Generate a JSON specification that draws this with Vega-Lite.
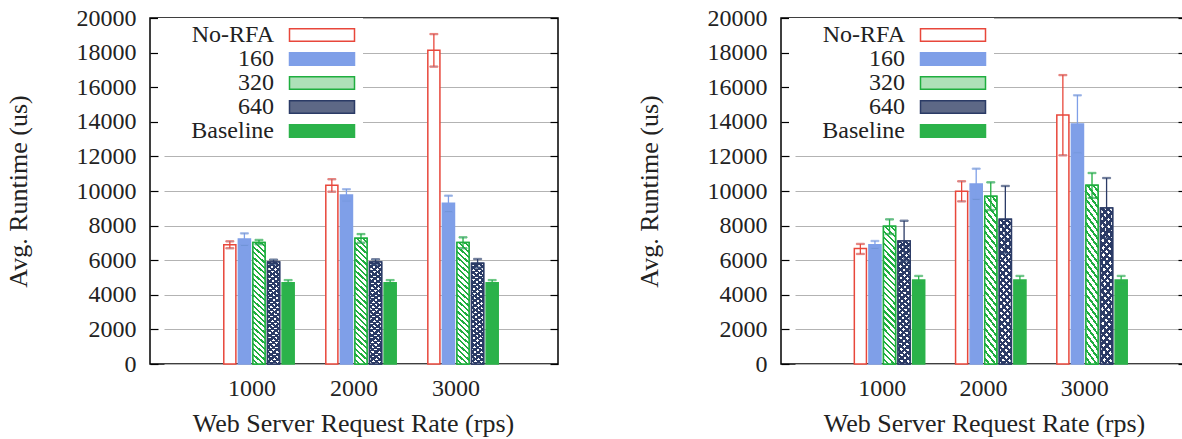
{
  "$schema": "https://vega.github.io/schema/vega-lite/v6.json",
  "padding": {"left": 4, "top": 5, "right": 0, "bottom": 0},
  "spacing": 75,
  "config": {
    "font": "Liberation Serif",
    "view": {"stroke": "black", "strokeWidth": 1.5},
    "axis": {"labelFont": "Liberation Serif", "titleFont": "Liberation Serif", "labelColor": "#222", "titleColor": "#222", "titleFontWeight": "normal"},
    "legend": {"labelFont": "Liberation Serif", "labelColor": "#222"}
  },
  "resolve": {"scale": {"fill": "independent", "stroke": "independent"}, "legend": {"fill": "independent", "stroke": "independent"}},
  "datasets": {
    "d": [
      {"panel": "a", "rate": "1000", "series": "No-RFA", "value": 6900, "lo": 6690, "hi": 7090},
      {"panel": "a", "rate": "1000", "series": "160", "value": 7220, "lo": 6860, "hi": 7550},
      {"panel": "a", "rate": "1000", "series": "320", "value": 7030, "lo": 6920, "hi": 7170},
      {"panel": "a", "rate": "1000", "series": "640", "value": 5890, "lo": 5760, "hi": 6030},
      {"panel": "a", "rate": "1000", "series": "Baseline", "value": 4700, "lo": 4570, "hi": 4850},
      {"panel": "a", "rate": "2000", "series": "No-RFA", "value": 10330, "lo": 9960, "hi": 10680},
      {"panel": "a", "rate": "2000", "series": "160", "value": 9770, "lo": 9420, "hi": 10100},
      {"panel": "a", "rate": "2000", "series": "320", "value": 7270, "lo": 7010, "hi": 7510},
      {"panel": "a", "rate": "2000", "series": "640", "value": 5890, "lo": 5740, "hi": 6050},
      {"panel": "a", "rate": "2000", "series": "Baseline", "value": 4700, "lo": 4570, "hi": 4850},
      {"panel": "a", "rate": "3000", "series": "No-RFA", "value": 18130, "lo": 17190, "hi": 19070},
      {"panel": "a", "rate": "3000", "series": "160", "value": 9290, "lo": 8800, "hi": 9730},
      {"panel": "a", "rate": "3000", "series": "320", "value": 7030, "lo": 6690, "hi": 7320},
      {"panel": "a", "rate": "3000", "series": "640", "value": 5820, "lo": 5570, "hi": 6070},
      {"panel": "a", "rate": "3000", "series": "Baseline", "value": 4700, "lo": 4570, "hi": 4850},
      {"panel": "b", "rate": "1000", "series": "No-RFA", "value": 6670, "lo": 6360, "hi": 6940},
      {"panel": "b", "rate": "1000", "series": "160", "value": 6900, "lo": 6690, "hi": 7110},
      {"panel": "b", "rate": "1000", "series": "320", "value": 7960, "lo": 7510, "hi": 8360},
      {"panel": "b", "rate": "1000", "series": "640", "value": 7110, "lo": 5950, "hi": 8280},
      {"panel": "b", "rate": "1000", "series": "Baseline", "value": 4860, "lo": 4620, "hi": 5090},
      {"panel": "b", "rate": "2000", "series": "No-RFA", "value": 9980, "lo": 9400, "hi": 10560},
      {"panel": "b", "rate": "2000", "series": "160", "value": 10400, "lo": 9520, "hi": 11290},
      {"panel": "b", "rate": "2000", "series": "320", "value": 9690, "lo": 8900, "hi": 10500},
      {"panel": "b", "rate": "2000", "series": "640", "value": 8360, "lo": 6400, "hi": 10290},
      {"panel": "b", "rate": "2000", "series": "Baseline", "value": 4860, "lo": 4620, "hi": 5090},
      {"panel": "b", "rate": "3000", "series": "No-RFA", "value": 14390, "lo": 12060, "hi": 16700},
      {"panel": "b", "rate": "3000", "series": "160", "value": 13870, "lo": 12200, "hi": 15530},
      {"panel": "b", "rate": "3000", "series": "320", "value": 10330, "lo": 9600, "hi": 11040},
      {"panel": "b", "rate": "3000", "series": "640", "value": 9020, "lo": 7280, "hi": 10750},
      {"panel": "b", "rate": "3000", "series": "Baseline", "value": 4860, "lo": 4620, "hi": 5090}
    ]
  },
  "hconcat": [
    {
      "width": 408, "height": 346,
      "data": {"name": "d"},
      "transform": [{"filter": "datum.panel === 'a'"}],
      "resolve": {"axis": {"y": "independent"}},
      "layer": [
        {
          "mark": {"type": "bar", "strokeWidth": 1.5},
          "encoding": {
            "x": {"field": "rate", "type": "nominal", "scale": {"paddingInner": 0.31, "paddingOuter": 0.586, "rangeMin": 14}, "axis": {"title": "Web Server Request Rate (rps)", "titleX": 203, "labelAngle": 0, "ticks": false, "domain": false, "grid": false, "labelOffset": -7, "labelFont": "Liberation Serif", "labelFontSize": 24, "labelPadding": 12, "titleFont": "Liberation Serif", "titleFontSize": 26, "titlePadding": 10}},
            "xOffset": {"field": "series", "type": "nominal", "scale": {"domain": ["No-RFA", "160", "320", "640", "Baseline"], "paddingInner": 0.17, "paddingOuter": 0}},
            "y": {"field": "value", "type": "quantitative", "scale": {"domain": [0, 20000], "nice": false}, "axis": {"values": [0, 2000, 4000, 6000, 8000, 10000, 12000, 14000, 16000, 18000, 20000], "format": "d", "grid": true, "gridColor": "#b3b3b3", "gridWidth": 1.2, "tickSize": -8, "tickColor": "black", "tickWidth": 1.2, "domain": false, "labelFont": "Liberation Serif", "labelFontSize": 24, "labelPadding": 22, "title": "Avg. Runtime (us)", "titleFont": "Liberation Serif", "titleFontSize": 26, "titlePadding": 45}},
            "fill": {"field": "series", "type": "nominal", "scale": {"domain": ["No-RFA", "160", "320", "640", "Baseline"], "range": ["white", "#7f9fe8", "#aee0b8", "#5d6886", "#2bb24a"]},
              "legend": {"orient": "none", "legendX": 8, "legendY": 0, "zindex": 1, "title": null, "symbolType": "M-5,-0.95H5V0.95H-5Z", "symbolSize": 169, "symbolStrokeWidth": 1.5, "symbolOffset": 147, "labelAlign": "right", "labelOffset": -60, "labelFontSize": 24, "labelLimit": 0, "rowPadding": -4, "padding": 5, "fillColor": "white"}},
            "stroke": {"field": "series", "type": "nominal", "scale": {"domain": ["No-RFA", "160", "320", "640", "Baseline"], "range": ["#e8473b", "#7f9fe8", "#1fae3f", "#2b3b66", "#2bb24a"]}}
          }
        },
        {
          "transform": [{"filter": "datum.series === '320'"}],
          "mark": {"type": "bar", "strokeWidth": 1.5, "stroke": "#1fae3f", "fill": {"gradient": "linear", "x1": 0.1, "y1": -0.1, "x2": 0, "y2": 1, "stops": [
                {"offset": 0, "color": "#1fae3f"}, {"offset": 0.016, "color": "#1fae3f"}, {"offset": 0.016, "color": "white"}, {"offset": 0.04, "color": "white"},
                {"offset": 0.04, "color": "#1fae3f"}, {"offset": 0.056, "color": "#1fae3f"}, {"offset": 0.056, "color": "white"}, {"offset": 0.08, "color": "white"},
                {"offset": 0.08, "color": "#1fae3f"}, {"offset": 0.096, "color": "#1fae3f"}, {"offset": 0.096, "color": "white"}, {"offset": 0.12, "color": "white"},
                {"offset": 0.12, "color": "#1fae3f"}, {"offset": 0.136, "color": "#1fae3f"}, {"offset": 0.136, "color": "white"}, {"offset": 0.16, "color": "white"},
                {"offset": 0.16, "color": "#1fae3f"}, {"offset": 0.176, "color": "#1fae3f"}, {"offset": 0.176, "color": "white"}, {"offset": 0.2, "color": "white"},
                {"offset": 0.2, "color": "#1fae3f"}, {"offset": 0.216, "color": "#1fae3f"}, {"offset": 0.216, "color": "white"}, {"offset": 0.24, "color": "white"},
                {"offset": 0.24, "color": "#1fae3f"}, {"offset": 0.256, "color": "#1fae3f"}, {"offset": 0.256, "color": "white"}, {"offset": 0.28, "color": "white"},
                {"offset": 0.28, "color": "#1fae3f"}, {"offset": 0.296, "color": "#1fae3f"}, {"offset": 0.296, "color": "white"}, {"offset": 0.32, "color": "white"},
                {"offset": 0.32, "color": "#1fae3f"}, {"offset": 0.336, "color": "#1fae3f"}, {"offset": 0.336, "color": "white"}, {"offset": 0.36, "color": "white"},
                {"offset": 0.36, "color": "#1fae3f"}, {"offset": 0.376, "color": "#1fae3f"}, {"offset": 0.376, "color": "white"}, {"offset": 0.4, "color": "white"},
                {"offset": 0.4, "color": "#1fae3f"}, {"offset": 0.416, "color": "#1fae3f"}, {"offset": 0.416, "color": "white"}, {"offset": 0.44, "color": "white"},
                {"offset": 0.44, "color": "#1fae3f"}, {"offset": 0.456, "color": "#1fae3f"}, {"offset": 0.456, "color": "white"}, {"offset": 0.48, "color": "white"},
                {"offset": 0.48, "color": "#1fae3f"}, {"offset": 0.496, "color": "#1fae3f"}, {"offset": 0.496, "color": "white"}, {"offset": 0.52, "color": "white"},
                {"offset": 0.52, "color": "#1fae3f"}, {"offset": 0.536, "color": "#1fae3f"}, {"offset": 0.536, "color": "white"}, {"offset": 0.56, "color": "white"},
                {"offset": 0.56, "color": "#1fae3f"}, {"offset": 0.576, "color": "#1fae3f"}, {"offset": 0.576, "color": "white"}, {"offset": 0.6, "color": "white"},
                {"offset": 0.6, "color": "#1fae3f"}, {"offset": 0.616, "color": "#1fae3f"}, {"offset": 0.616, "color": "white"}, {"offset": 0.64, "color": "white"},
                {"offset": 0.64, "color": "#1fae3f"}, {"offset": 0.656, "color": "#1fae3f"}, {"offset": 0.656, "color": "white"}, {"offset": 0.68, "color": "white"},
                {"offset": 0.68, "color": "#1fae3f"}, {"offset": 0.696, "color": "#1fae3f"}, {"offset": 0.696, "color": "white"}, {"offset": 0.72, "color": "white"},
                {"offset": 0.72, "color": "#1fae3f"}, {"offset": 0.736, "color": "#1fae3f"}, {"offset": 0.736, "color": "white"}, {"offset": 0.76, "color": "white"},
                {"offset": 0.76, "color": "#1fae3f"}, {"offset": 0.776, "color": "#1fae3f"}, {"offset": 0.776, "color": "white"}, {"offset": 0.8, "color": "white"},
                {"offset": 0.8, "color": "#1fae3f"}, {"offset": 0.816, "color": "#1fae3f"}, {"offset": 0.816, "color": "white"}, {"offset": 0.84, "color": "white"},
                {"offset": 0.84, "color": "#1fae3f"}, {"offset": 0.856, "color": "#1fae3f"}, {"offset": 0.856, "color": "white"}, {"offset": 0.88, "color": "white"},
                {"offset": 0.88, "color": "#1fae3f"}, {"offset": 0.896, "color": "#1fae3f"}, {"offset": 0.896, "color": "white"}, {"offset": 0.92, "color": "white"},
                {"offset": 0.92, "color": "#1fae3f"}, {"offset": 0.936, "color": "#1fae3f"}, {"offset": 0.936, "color": "white"}, {"offset": 0.96, "color": "white"},
                {"offset": 0.96, "color": "#1fae3f"}, {"offset": 0.976, "color": "#1fae3f"}, {"offset": 0.976, "color": "white"}, {"offset": 1, "color": "white"}
              ]}},
          "encoding": {
            "x": {"field": "rate", "type": "nominal"},
            "xOffset": {"field": "series", "type": "nominal"},
            "y": {"field": "value", "type": "quantitative", "axis": null}
          }
        },
        {
          "transform": [{"filter": "datum.series === '640'"}],
          "mark": {"type": "bar", "strokeWidth": 1.5, "stroke": "#2b3b66", "fill": {"gradient": "linear", "x1": 0.1, "y1": -0.1, "x2": 0, "y2": 1, "stops": [
                {"offset": 0, "color": "#2b3b66"}, {"offset": 0.02, "color": "#2b3b66"}, {"offset": 0.02, "color": "white"}, {"offset": 0.04, "color": "white"},
                {"offset": 0.04, "color": "#2b3b66"}, {"offset": 0.06, "color": "#2b3b66"}, {"offset": 0.06, "color": "white"}, {"offset": 0.08, "color": "white"},
                {"offset": 0.08, "color": "#2b3b66"}, {"offset": 0.1, "color": "#2b3b66"}, {"offset": 0.1, "color": "white"}, {"offset": 0.12, "color": "white"},
                {"offset": 0.12, "color": "#2b3b66"}, {"offset": 0.14, "color": "#2b3b66"}, {"offset": 0.14, "color": "white"}, {"offset": 0.16, "color": "white"},
                {"offset": 0.16, "color": "#2b3b66"}, {"offset": 0.18, "color": "#2b3b66"}, {"offset": 0.18, "color": "white"}, {"offset": 0.2, "color": "white"},
                {"offset": 0.2, "color": "#2b3b66"}, {"offset": 0.22, "color": "#2b3b66"}, {"offset": 0.22, "color": "white"}, {"offset": 0.24, "color": "white"},
                {"offset": 0.24, "color": "#2b3b66"}, {"offset": 0.26, "color": "#2b3b66"}, {"offset": 0.26, "color": "white"}, {"offset": 0.28, "color": "white"},
                {"offset": 0.28, "color": "#2b3b66"}, {"offset": 0.3, "color": "#2b3b66"}, {"offset": 0.3, "color": "white"}, {"offset": 0.32, "color": "white"},
                {"offset": 0.32, "color": "#2b3b66"}, {"offset": 0.34, "color": "#2b3b66"}, {"offset": 0.34, "color": "white"}, {"offset": 0.36, "color": "white"},
                {"offset": 0.36, "color": "#2b3b66"}, {"offset": 0.38, "color": "#2b3b66"}, {"offset": 0.38, "color": "white"}, {"offset": 0.4, "color": "white"},
                {"offset": 0.4, "color": "#2b3b66"}, {"offset": 0.42, "color": "#2b3b66"}, {"offset": 0.42, "color": "white"}, {"offset": 0.44, "color": "white"},
                {"offset": 0.44, "color": "#2b3b66"}, {"offset": 0.46, "color": "#2b3b66"}, {"offset": 0.46, "color": "white"}, {"offset": 0.48, "color": "white"},
                {"offset": 0.48, "color": "#2b3b66"}, {"offset": 0.5, "color": "#2b3b66"}, {"offset": 0.5, "color": "white"}, {"offset": 0.52, "color": "white"},
                {"offset": 0.52, "color": "#2b3b66"}, {"offset": 0.54, "color": "#2b3b66"}, {"offset": 0.54, "color": "white"}, {"offset": 0.56, "color": "white"},
                {"offset": 0.56, "color": "#2b3b66"}, {"offset": 0.58, "color": "#2b3b66"}, {"offset": 0.58, "color": "white"}, {"offset": 0.6, "color": "white"},
                {"offset": 0.6, "color": "#2b3b66"}, {"offset": 0.62, "color": "#2b3b66"}, {"offset": 0.62, "color": "white"}, {"offset": 0.64, "color": "white"},
                {"offset": 0.64, "color": "#2b3b66"}, {"offset": 0.66, "color": "#2b3b66"}, {"offset": 0.66, "color": "white"}, {"offset": 0.68, "color": "white"},
                {"offset": 0.68, "color": "#2b3b66"}, {"offset": 0.7, "color": "#2b3b66"}, {"offset": 0.7, "color": "white"}, {"offset": 0.72, "color": "white"},
                {"offset": 0.72, "color": "#2b3b66"}, {"offset": 0.74, "color": "#2b3b66"}, {"offset": 0.74, "color": "white"}, {"offset": 0.76, "color": "white"},
                {"offset": 0.76, "color": "#2b3b66"}, {"offset": 0.78, "color": "#2b3b66"}, {"offset": 0.78, "color": "white"}, {"offset": 0.8, "color": "white"},
                {"offset": 0.8, "color": "#2b3b66"}, {"offset": 0.82, "color": "#2b3b66"}, {"offset": 0.82, "color": "white"}, {"offset": 0.84, "color": "white"},
                {"offset": 0.84, "color": "#2b3b66"}, {"offset": 0.86, "color": "#2b3b66"}, {"offset": 0.86, "color": "white"}, {"offset": 0.88, "color": "white"},
                {"offset": 0.88, "color": "#2b3b66"}, {"offset": 0.9, "color": "#2b3b66"}, {"offset": 0.9, "color": "white"}, {"offset": 0.92, "color": "white"},
                {"offset": 0.92, "color": "#2b3b66"}, {"offset": 0.94, "color": "#2b3b66"}, {"offset": 0.94, "color": "white"}, {"offset": 0.96, "color": "white"},
                {"offset": 0.96, "color": "#2b3b66"}, {"offset": 0.98, "color": "#2b3b66"}, {"offset": 0.98, "color": "white"}, {"offset": 1, "color": "white"}
              ]}},
          "encoding": {
            "x": {"field": "rate", "type": "nominal"},
            "xOffset": {"field": "series", "type": "nominal"},
            "y": {"field": "value", "type": "quantitative", "axis": null}
          }
        },
        {
          "transform": [{"filter": "datum.series === '640'"}],
          "mark": {"type": "bar", "strokeWidth": 0, "fill": {"gradient": "linear", "x1": 0, "y1": -0.1, "x2": 0.1, "y2": 1.1, "stops": [
                {"offset": 0, "color": "#2b3b66"}, {"offset": 0.02, "color": "#2b3b66"}, {"offset": 0.02, "color": "rgba(255,255,255,0)"}, {"offset": 0.04, "color": "rgba(255,255,255,0)"},
                {"offset": 0.04, "color": "#2b3b66"}, {"offset": 0.06, "color": "#2b3b66"}, {"offset": 0.06, "color": "rgba(255,255,255,0)"}, {"offset": 0.08, "color": "rgba(255,255,255,0)"},
                {"offset": 0.08, "color": "#2b3b66"}, {"offset": 0.1, "color": "#2b3b66"}, {"offset": 0.1, "color": "rgba(255,255,255,0)"}, {"offset": 0.12, "color": "rgba(255,255,255,0)"},
                {"offset": 0.12, "color": "#2b3b66"}, {"offset": 0.14, "color": "#2b3b66"}, {"offset": 0.14, "color": "rgba(255,255,255,0)"}, {"offset": 0.16, "color": "rgba(255,255,255,0)"},
                {"offset": 0.16, "color": "#2b3b66"}, {"offset": 0.18, "color": "#2b3b66"}, {"offset": 0.18, "color": "rgba(255,255,255,0)"}, {"offset": 0.2, "color": "rgba(255,255,255,0)"},
                {"offset": 0.2, "color": "#2b3b66"}, {"offset": 0.22, "color": "#2b3b66"}, {"offset": 0.22, "color": "rgba(255,255,255,0)"}, {"offset": 0.24, "color": "rgba(255,255,255,0)"},
                {"offset": 0.24, "color": "#2b3b66"}, {"offset": 0.26, "color": "#2b3b66"}, {"offset": 0.26, "color": "rgba(255,255,255,0)"}, {"offset": 0.28, "color": "rgba(255,255,255,0)"},
                {"offset": 0.28, "color": "#2b3b66"}, {"offset": 0.3, "color": "#2b3b66"}, {"offset": 0.3, "color": "rgba(255,255,255,0)"}, {"offset": 0.32, "color": "rgba(255,255,255,0)"},
                {"offset": 0.32, "color": "#2b3b66"}, {"offset": 0.34, "color": "#2b3b66"}, {"offset": 0.34, "color": "rgba(255,255,255,0)"}, {"offset": 0.36, "color": "rgba(255,255,255,0)"},
                {"offset": 0.36, "color": "#2b3b66"}, {"offset": 0.38, "color": "#2b3b66"}, {"offset": 0.38, "color": "rgba(255,255,255,0)"}, {"offset": 0.4, "color": "rgba(255,255,255,0)"},
                {"offset": 0.4, "color": "#2b3b66"}, {"offset": 0.42, "color": "#2b3b66"}, {"offset": 0.42, "color": "rgba(255,255,255,0)"}, {"offset": 0.44, "color": "rgba(255,255,255,0)"},
                {"offset": 0.44, "color": "#2b3b66"}, {"offset": 0.46, "color": "#2b3b66"}, {"offset": 0.46, "color": "rgba(255,255,255,0)"}, {"offset": 0.48, "color": "rgba(255,255,255,0)"},
                {"offset": 0.48, "color": "#2b3b66"}, {"offset": 0.5, "color": "#2b3b66"}, {"offset": 0.5, "color": "rgba(255,255,255,0)"}, {"offset": 0.52, "color": "rgba(255,255,255,0)"},
                {"offset": 0.52, "color": "#2b3b66"}, {"offset": 0.54, "color": "#2b3b66"}, {"offset": 0.54, "color": "rgba(255,255,255,0)"}, {"offset": 0.56, "color": "rgba(255,255,255,0)"},
                {"offset": 0.56, "color": "#2b3b66"}, {"offset": 0.58, "color": "#2b3b66"}, {"offset": 0.58, "color": "rgba(255,255,255,0)"}, {"offset": 0.6, "color": "rgba(255,255,255,0)"},
                {"offset": 0.6, "color": "#2b3b66"}, {"offset": 0.62, "color": "#2b3b66"}, {"offset": 0.62, "color": "rgba(255,255,255,0)"}, {"offset": 0.64, "color": "rgba(255,255,255,0)"},
                {"offset": 0.64, "color": "#2b3b66"}, {"offset": 0.66, "color": "#2b3b66"}, {"offset": 0.66, "color": "rgba(255,255,255,0)"}, {"offset": 0.68, "color": "rgba(255,255,255,0)"},
                {"offset": 0.68, "color": "#2b3b66"}, {"offset": 0.7, "color": "#2b3b66"}, {"offset": 0.7, "color": "rgba(255,255,255,0)"}, {"offset": 0.72, "color": "rgba(255,255,255,0)"},
                {"offset": 0.72, "color": "#2b3b66"}, {"offset": 0.74, "color": "#2b3b66"}, {"offset": 0.74, "color": "rgba(255,255,255,0)"}, {"offset": 0.76, "color": "rgba(255,255,255,0)"},
                {"offset": 0.76, "color": "#2b3b66"}, {"offset": 0.78, "color": "#2b3b66"}, {"offset": 0.78, "color": "rgba(255,255,255,0)"}, {"offset": 0.8, "color": "rgba(255,255,255,0)"},
                {"offset": 0.8, "color": "#2b3b66"}, {"offset": 0.82, "color": "#2b3b66"}, {"offset": 0.82, "color": "rgba(255,255,255,0)"}, {"offset": 0.84, "color": "rgba(255,255,255,0)"},
                {"offset": 0.84, "color": "#2b3b66"}, {"offset": 0.86, "color": "#2b3b66"}, {"offset": 0.86, "color": "rgba(255,255,255,0)"}, {"offset": 0.88, "color": "rgba(255,255,255,0)"},
                {"offset": 0.88, "color": "#2b3b66"}, {"offset": 0.9, "color": "#2b3b66"}, {"offset": 0.9, "color": "rgba(255,255,255,0)"}, {"offset": 0.92, "color": "rgba(255,255,255,0)"},
                {"offset": 0.92, "color": "#2b3b66"}, {"offset": 0.94, "color": "#2b3b66"}, {"offset": 0.94, "color": "rgba(255,255,255,0)"}, {"offset": 0.96, "color": "rgba(255,255,255,0)"},
                {"offset": 0.96, "color": "#2b3b66"}, {"offset": 0.98, "color": "#2b3b66"}, {"offset": 0.98, "color": "rgba(255,255,255,0)"}, {"offset": 1, "color": "rgba(255,255,255,0)"}
              ]}},
          "encoding": {
            "x": {"field": "rate", "type": "nominal"},
            "xOffset": {"field": "series", "type": "nominal"},
            "y": {"field": "value", "type": "quantitative", "axis": null}
          }
        },
        {
          "mark": {"type": "rule", "strokeWidth": 1.3},
          "encoding": {
            "x": {"field": "rate", "type": "nominal"},
            "xOffset": {"field": "series", "type": "nominal"},
            "y": {"field": "lo", "type": "quantitative", "axis": null},
            "y2": {"field": "hi"},
            "stroke": {"field": "series", "type": "nominal"}
          }
        },
        {
          "mark": {"type": "tick", "thickness": 1.3, "size": 8},
          "encoding": {
            "x": {"field": "rate", "type": "nominal"},
            "xOffset": {"field": "series", "type": "nominal"},
            "y": {"field": "lo", "type": "quantitative", "axis": {"orient": "right", "labels": false, "domain": false, "grid": false, "tickSize": -8, "tickColor": "black", "tickWidth": 1.2, "title": null, "values": [0, 2000, 4000, 6000, 8000, 10000, 12000, 14000, 16000, 18000, 20000]}},
            "stroke": {"field": "series", "type": "nominal"}
          }
        },
        {
          "mark": {"type": "tick", "thickness": 1.3, "size": 8},
          "encoding": {
            "x": {"field": "rate", "type": "nominal"},
            "xOffset": {"field": "series", "type": "nominal"},
            "y": {"field": "hi", "type": "quantitative", "axis": null},
            "stroke": {"field": "series", "type": "nominal"}
          }
        }
      ]
    },
    {
      "width": 405, "height": 346,
      "data": {"name": "d"},
      "transform": [{"filter": "datum.panel === 'b'"}],
      "resolve": {"axis": {"y": "independent"}},
      "layer": [
        {
          "mark": {"type": "bar", "strokeWidth": 1.5},
          "encoding": {
            "x": {"field": "rate", "type": "nominal", "scale": {"paddingInner": 0.31, "paddingOuter": 0.586, "rangeMin": 14}, "axis": {"title": "Web Server Request Rate (rps)", "titleX": 203, "labelAngle": 0, "ticks": false, "domain": false, "grid": false, "labelOffset": -7, "labelFont": "Liberation Serif", "labelFontSize": 24, "labelPadding": 12, "titleFont": "Liberation Serif", "titleFontSize": 26, "titlePadding": 10}},
            "xOffset": {"field": "series", "type": "nominal", "scale": {"domain": ["No-RFA", "160", "320", "640", "Baseline"], "paddingInner": 0.17, "paddingOuter": 0}},
            "y": {"field": "value", "type": "quantitative", "scale": {"domain": [0, 20000], "nice": false}, "axis": {"values": [0, 2000, 4000, 6000, 8000, 10000, 12000, 14000, 16000, 18000, 20000], "format": "d", "grid": true, "gridColor": "#b3b3b3", "gridWidth": 1.2, "tickSize": -8, "tickColor": "black", "tickWidth": 1.2, "domain": false, "labelFont": "Liberation Serif", "labelFontSize": 24, "labelPadding": 22, "title": "Avg. Runtime (us)", "titleFont": "Liberation Serif", "titleFontSize": 26, "titlePadding": 45}},
            "fill": {"field": "series", "type": "nominal", "scale": {"domain": ["No-RFA", "160", "320", "640", "Baseline"], "range": ["white", "#7f9fe8", "#aee0b8", "#5d6886", "#2bb24a"]},
              "legend": {"orient": "none", "legendX": 8, "legendY": 0, "zindex": 1, "title": null, "symbolType": "M-5,-0.95H5V0.95H-5Z", "symbolSize": 169, "symbolStrokeWidth": 1.5, "symbolOffset": 147, "labelAlign": "right", "labelOffset": -60, "labelFontSize": 24, "labelLimit": 0, "rowPadding": -4, "padding": 5, "fillColor": "white"}},
            "stroke": {"field": "series", "type": "nominal", "scale": {"domain": ["No-RFA", "160", "320", "640", "Baseline"], "range": ["#e8473b", "#7f9fe8", "#1fae3f", "#2b3b66", "#2bb24a"]}}
          }
        },
        {
          "transform": [{"filter": "datum.series === '320'"}],
          "mark": {"type": "bar", "strokeWidth": 1.5, "stroke": "#1fae3f", "fill": {"gradient": "linear", "x1": 0.1, "y1": -0.1, "x2": 0, "y2": 1, "stops": [
                {"offset": 0, "color": "#1fae3f"}, {"offset": 0.016, "color": "#1fae3f"}, {"offset": 0.016, "color": "white"}, {"offset": 0.04, "color": "white"},
                {"offset": 0.04, "color": "#1fae3f"}, {"offset": 0.056, "color": "#1fae3f"}, {"offset": 0.056, "color": "white"}, {"offset": 0.08, "color": "white"},
                {"offset": 0.08, "color": "#1fae3f"}, {"offset": 0.096, "color": "#1fae3f"}, {"offset": 0.096, "color": "white"}, {"offset": 0.12, "color": "white"},
                {"offset": 0.12, "color": "#1fae3f"}, {"offset": 0.136, "color": "#1fae3f"}, {"offset": 0.136, "color": "white"}, {"offset": 0.16, "color": "white"},
                {"offset": 0.16, "color": "#1fae3f"}, {"offset": 0.176, "color": "#1fae3f"}, {"offset": 0.176, "color": "white"}, {"offset": 0.2, "color": "white"},
                {"offset": 0.2, "color": "#1fae3f"}, {"offset": 0.216, "color": "#1fae3f"}, {"offset": 0.216, "color": "white"}, {"offset": 0.24, "color": "white"},
                {"offset": 0.24, "color": "#1fae3f"}, {"offset": 0.256, "color": "#1fae3f"}, {"offset": 0.256, "color": "white"}, {"offset": 0.28, "color": "white"},
                {"offset": 0.28, "color": "#1fae3f"}, {"offset": 0.296, "color": "#1fae3f"}, {"offset": 0.296, "color": "white"}, {"offset": 0.32, "color": "white"},
                {"offset": 0.32, "color": "#1fae3f"}, {"offset": 0.336, "color": "#1fae3f"}, {"offset": 0.336, "color": "white"}, {"offset": 0.36, "color": "white"},
                {"offset": 0.36, "color": "#1fae3f"}, {"offset": 0.376, "color": "#1fae3f"}, {"offset": 0.376, "color": "white"}, {"offset": 0.4, "color": "white"},
                {"offset": 0.4, "color": "#1fae3f"}, {"offset": 0.416, "color": "#1fae3f"}, {"offset": 0.416, "color": "white"}, {"offset": 0.44, "color": "white"},
                {"offset": 0.44, "color": "#1fae3f"}, {"offset": 0.456, "color": "#1fae3f"}, {"offset": 0.456, "color": "white"}, {"offset": 0.48, "color": "white"},
                {"offset": 0.48, "color": "#1fae3f"}, {"offset": 0.496, "color": "#1fae3f"}, {"offset": 0.496, "color": "white"}, {"offset": 0.52, "color": "white"},
                {"offset": 0.52, "color": "#1fae3f"}, {"offset": 0.536, "color": "#1fae3f"}, {"offset": 0.536, "color": "white"}, {"offset": 0.56, "color": "white"},
                {"offset": 0.56, "color": "#1fae3f"}, {"offset": 0.576, "color": "#1fae3f"}, {"offset": 0.576, "color": "white"}, {"offset": 0.6, "color": "white"},
                {"offset": 0.6, "color": "#1fae3f"}, {"offset": 0.616, "color": "#1fae3f"}, {"offset": 0.616, "color": "white"}, {"offset": 0.64, "color": "white"},
                {"offset": 0.64, "color": "#1fae3f"}, {"offset": 0.656, "color": "#1fae3f"}, {"offset": 0.656, "color": "white"}, {"offset": 0.68, "color": "white"},
                {"offset": 0.68, "color": "#1fae3f"}, {"offset": 0.696, "color": "#1fae3f"}, {"offset": 0.696, "color": "white"}, {"offset": 0.72, "color": "white"},
                {"offset": 0.72, "color": "#1fae3f"}, {"offset": 0.736, "color": "#1fae3f"}, {"offset": 0.736, "color": "white"}, {"offset": 0.76, "color": "white"},
                {"offset": 0.76, "color": "#1fae3f"}, {"offset": 0.776, "color": "#1fae3f"}, {"offset": 0.776, "color": "white"}, {"offset": 0.8, "color": "white"},
                {"offset": 0.8, "color": "#1fae3f"}, {"offset": 0.816, "color": "#1fae3f"}, {"offset": 0.816, "color": "white"}, {"offset": 0.84, "color": "white"},
                {"offset": 0.84, "color": "#1fae3f"}, {"offset": 0.856, "color": "#1fae3f"}, {"offset": 0.856, "color": "white"}, {"offset": 0.88, "color": "white"},
                {"offset": 0.88, "color": "#1fae3f"}, {"offset": 0.896, "color": "#1fae3f"}, {"offset": 0.896, "color": "white"}, {"offset": 0.92, "color": "white"},
                {"offset": 0.92, "color": "#1fae3f"}, {"offset": 0.936, "color": "#1fae3f"}, {"offset": 0.936, "color": "white"}, {"offset": 0.96, "color": "white"},
                {"offset": 0.96, "color": "#1fae3f"}, {"offset": 0.976, "color": "#1fae3f"}, {"offset": 0.976, "color": "white"}, {"offset": 1, "color": "white"}
              ]}},
          "encoding": {
            "x": {"field": "rate", "type": "nominal"},
            "xOffset": {"field": "series", "type": "nominal"},
            "y": {"field": "value", "type": "quantitative", "axis": null}
          }
        },
        {
          "transform": [{"filter": "datum.series === '640'"}],
          "mark": {"type": "bar", "strokeWidth": 1.5, "stroke": "#2b3b66", "fill": {"gradient": "linear", "x1": 0.1, "y1": -0.1, "x2": 0, "y2": 1, "stops": [
                {"offset": 0, "color": "#2b3b66"}, {"offset": 0.02, "color": "#2b3b66"}, {"offset": 0.02, "color": "white"}, {"offset": 0.04, "color": "white"},
                {"offset": 0.04, "color": "#2b3b66"}, {"offset": 0.06, "color": "#2b3b66"}, {"offset": 0.06, "color": "white"}, {"offset": 0.08, "color": "white"},
                {"offset": 0.08, "color": "#2b3b66"}, {"offset": 0.1, "color": "#2b3b66"}, {"offset": 0.1, "color": "white"}, {"offset": 0.12, "color": "white"},
                {"offset": 0.12, "color": "#2b3b66"}, {"offset": 0.14, "color": "#2b3b66"}, {"offset": 0.14, "color": "white"}, {"offset": 0.16, "color": "white"},
                {"offset": 0.16, "color": "#2b3b66"}, {"offset": 0.18, "color": "#2b3b66"}, {"offset": 0.18, "color": "white"}, {"offset": 0.2, "color": "white"},
                {"offset": 0.2, "color": "#2b3b66"}, {"offset": 0.22, "color": "#2b3b66"}, {"offset": 0.22, "color": "white"}, {"offset": 0.24, "color": "white"},
                {"offset": 0.24, "color": "#2b3b66"}, {"offset": 0.26, "color": "#2b3b66"}, {"offset": 0.26, "color": "white"}, {"offset": 0.28, "color": "white"},
                {"offset": 0.28, "color": "#2b3b66"}, {"offset": 0.3, "color": "#2b3b66"}, {"offset": 0.3, "color": "white"}, {"offset": 0.32, "color": "white"},
                {"offset": 0.32, "color": "#2b3b66"}, {"offset": 0.34, "color": "#2b3b66"}, {"offset": 0.34, "color": "white"}, {"offset": 0.36, "color": "white"},
                {"offset": 0.36, "color": "#2b3b66"}, {"offset": 0.38, "color": "#2b3b66"}, {"offset": 0.38, "color": "white"}, {"offset": 0.4, "color": "white"},
                {"offset": 0.4, "color": "#2b3b66"}, {"offset": 0.42, "color": "#2b3b66"}, {"offset": 0.42, "color": "white"}, {"offset": 0.44, "color": "white"},
                {"offset": 0.44, "color": "#2b3b66"}, {"offset": 0.46, "color": "#2b3b66"}, {"offset": 0.46, "color": "white"}, {"offset": 0.48, "color": "white"},
                {"offset": 0.48, "color": "#2b3b66"}, {"offset": 0.5, "color": "#2b3b66"}, {"offset": 0.5, "color": "white"}, {"offset": 0.52, "color": "white"},
                {"offset": 0.52, "color": "#2b3b66"}, {"offset": 0.54, "color": "#2b3b66"}, {"offset": 0.54, "color": "white"}, {"offset": 0.56, "color": "white"},
                {"offset": 0.56, "color": "#2b3b66"}, {"offset": 0.58, "color": "#2b3b66"}, {"offset": 0.58, "color": "white"}, {"offset": 0.6, "color": "white"},
                {"offset": 0.6, "color": "#2b3b66"}, {"offset": 0.62, "color": "#2b3b66"}, {"offset": 0.62, "color": "white"}, {"offset": 0.64, "color": "white"},
                {"offset": 0.64, "color": "#2b3b66"}, {"offset": 0.66, "color": "#2b3b66"}, {"offset": 0.66, "color": "white"}, {"offset": 0.68, "color": "white"},
                {"offset": 0.68, "color": "#2b3b66"}, {"offset": 0.7, "color": "#2b3b66"}, {"offset": 0.7, "color": "white"}, {"offset": 0.72, "color": "white"},
                {"offset": 0.72, "color": "#2b3b66"}, {"offset": 0.74, "color": "#2b3b66"}, {"offset": 0.74, "color": "white"}, {"offset": 0.76, "color": "white"},
                {"offset": 0.76, "color": "#2b3b66"}, {"offset": 0.78, "color": "#2b3b66"}, {"offset": 0.78, "color": "white"}, {"offset": 0.8, "color": "white"},
                {"offset": 0.8, "color": "#2b3b66"}, {"offset": 0.82, "color": "#2b3b66"}, {"offset": 0.82, "color": "white"}, {"offset": 0.84, "color": "white"},
                {"offset": 0.84, "color": "#2b3b66"}, {"offset": 0.86, "color": "#2b3b66"}, {"offset": 0.86, "color": "white"}, {"offset": 0.88, "color": "white"},
                {"offset": 0.88, "color": "#2b3b66"}, {"offset": 0.9, "color": "#2b3b66"}, {"offset": 0.9, "color": "white"}, {"offset": 0.92, "color": "white"},
                {"offset": 0.92, "color": "#2b3b66"}, {"offset": 0.94, "color": "#2b3b66"}, {"offset": 0.94, "color": "white"}, {"offset": 0.96, "color": "white"},
                {"offset": 0.96, "color": "#2b3b66"}, {"offset": 0.98, "color": "#2b3b66"}, {"offset": 0.98, "color": "white"}, {"offset": 1, "color": "white"}
              ]}},
          "encoding": {
            "x": {"field": "rate", "type": "nominal"},
            "xOffset": {"field": "series", "type": "nominal"},
            "y": {"field": "value", "type": "quantitative", "axis": null}
          }
        },
        {
          "transform": [{"filter": "datum.series === '640'"}],
          "mark": {"type": "bar", "strokeWidth": 0, "fill": {"gradient": "linear", "x1": 0, "y1": -0.1, "x2": 0.1, "y2": 1.1, "stops": [
                {"offset": 0, "color": "#2b3b66"}, {"offset": 0.02, "color": "#2b3b66"}, {"offset": 0.02, "color": "rgba(255,255,255,0)"}, {"offset": 0.04, "color": "rgba(255,255,255,0)"},
                {"offset": 0.04, "color": "#2b3b66"}, {"offset": 0.06, "color": "#2b3b66"}, {"offset": 0.06, "color": "rgba(255,255,255,0)"}, {"offset": 0.08, "color": "rgba(255,255,255,0)"},
                {"offset": 0.08, "color": "#2b3b66"}, {"offset": 0.1, "color": "#2b3b66"}, {"offset": 0.1, "color": "rgba(255,255,255,0)"}, {"offset": 0.12, "color": "rgba(255,255,255,0)"},
                {"offset": 0.12, "color": "#2b3b66"}, {"offset": 0.14, "color": "#2b3b66"}, {"offset": 0.14, "color": "rgba(255,255,255,0)"}, {"offset": 0.16, "color": "rgba(255,255,255,0)"},
                {"offset": 0.16, "color": "#2b3b66"}, {"offset": 0.18, "color": "#2b3b66"}, {"offset": 0.18, "color": "rgba(255,255,255,0)"}, {"offset": 0.2, "color": "rgba(255,255,255,0)"},
                {"offset": 0.2, "color": "#2b3b66"}, {"offset": 0.22, "color": "#2b3b66"}, {"offset": 0.22, "color": "rgba(255,255,255,0)"}, {"offset": 0.24, "color": "rgba(255,255,255,0)"},
                {"offset": 0.24, "color": "#2b3b66"}, {"offset": 0.26, "color": "#2b3b66"}, {"offset": 0.26, "color": "rgba(255,255,255,0)"}, {"offset": 0.28, "color": "rgba(255,255,255,0)"},
                {"offset": 0.28, "color": "#2b3b66"}, {"offset": 0.3, "color": "#2b3b66"}, {"offset": 0.3, "color": "rgba(255,255,255,0)"}, {"offset": 0.32, "color": "rgba(255,255,255,0)"},
                {"offset": 0.32, "color": "#2b3b66"}, {"offset": 0.34, "color": "#2b3b66"}, {"offset": 0.34, "color": "rgba(255,255,255,0)"}, {"offset": 0.36, "color": "rgba(255,255,255,0)"},
                {"offset": 0.36, "color": "#2b3b66"}, {"offset": 0.38, "color": "#2b3b66"}, {"offset": 0.38, "color": "rgba(255,255,255,0)"}, {"offset": 0.4, "color": "rgba(255,255,255,0)"},
                {"offset": 0.4, "color": "#2b3b66"}, {"offset": 0.42, "color": "#2b3b66"}, {"offset": 0.42, "color": "rgba(255,255,255,0)"}, {"offset": 0.44, "color": "rgba(255,255,255,0)"},
                {"offset": 0.44, "color": "#2b3b66"}, {"offset": 0.46, "color": "#2b3b66"}, {"offset": 0.46, "color": "rgba(255,255,255,0)"}, {"offset": 0.48, "color": "rgba(255,255,255,0)"},
                {"offset": 0.48, "color": "#2b3b66"}, {"offset": 0.5, "color": "#2b3b66"}, {"offset": 0.5, "color": "rgba(255,255,255,0)"}, {"offset": 0.52, "color": "rgba(255,255,255,0)"},
                {"offset": 0.52, "color": "#2b3b66"}, {"offset": 0.54, "color": "#2b3b66"}, {"offset": 0.54, "color": "rgba(255,255,255,0)"}, {"offset": 0.56, "color": "rgba(255,255,255,0)"},
                {"offset": 0.56, "color": "#2b3b66"}, {"offset": 0.58, "color": "#2b3b66"}, {"offset": 0.58, "color": "rgba(255,255,255,0)"}, {"offset": 0.6, "color": "rgba(255,255,255,0)"},
                {"offset": 0.6, "color": "#2b3b66"}, {"offset": 0.62, "color": "#2b3b66"}, {"offset": 0.62, "color": "rgba(255,255,255,0)"}, {"offset": 0.64, "color": "rgba(255,255,255,0)"},
                {"offset": 0.64, "color": "#2b3b66"}, {"offset": 0.66, "color": "#2b3b66"}, {"offset": 0.66, "color": "rgba(255,255,255,0)"}, {"offset": 0.68, "color": "rgba(255,255,255,0)"},
                {"offset": 0.68, "color": "#2b3b66"}, {"offset": 0.7, "color": "#2b3b66"}, {"offset": 0.7, "color": "rgba(255,255,255,0)"}, {"offset": 0.72, "color": "rgba(255,255,255,0)"},
                {"offset": 0.72, "color": "#2b3b66"}, {"offset": 0.74, "color": "#2b3b66"}, {"offset": 0.74, "color": "rgba(255,255,255,0)"}, {"offset": 0.76, "color": "rgba(255,255,255,0)"},
                {"offset": 0.76, "color": "#2b3b66"}, {"offset": 0.78, "color": "#2b3b66"}, {"offset": 0.78, "color": "rgba(255,255,255,0)"}, {"offset": 0.8, "color": "rgba(255,255,255,0)"},
                {"offset": 0.8, "color": "#2b3b66"}, {"offset": 0.82, "color": "#2b3b66"}, {"offset": 0.82, "color": "rgba(255,255,255,0)"}, {"offset": 0.84, "color": "rgba(255,255,255,0)"},
                {"offset": 0.84, "color": "#2b3b66"}, {"offset": 0.86, "color": "#2b3b66"}, {"offset": 0.86, "color": "rgba(255,255,255,0)"}, {"offset": 0.88, "color": "rgba(255,255,255,0)"},
                {"offset": 0.88, "color": "#2b3b66"}, {"offset": 0.9, "color": "#2b3b66"}, {"offset": 0.9, "color": "rgba(255,255,255,0)"}, {"offset": 0.92, "color": "rgba(255,255,255,0)"},
                {"offset": 0.92, "color": "#2b3b66"}, {"offset": 0.94, "color": "#2b3b66"}, {"offset": 0.94, "color": "rgba(255,255,255,0)"}, {"offset": 0.96, "color": "rgba(255,255,255,0)"},
                {"offset": 0.96, "color": "#2b3b66"}, {"offset": 0.98, "color": "#2b3b66"}, {"offset": 0.98, "color": "rgba(255,255,255,0)"}, {"offset": 1, "color": "rgba(255,255,255,0)"}
              ]}},
          "encoding": {
            "x": {"field": "rate", "type": "nominal"},
            "xOffset": {"field": "series", "type": "nominal"},
            "y": {"field": "value", "type": "quantitative", "axis": null}
          }
        },
        {
          "mark": {"type": "rule", "strokeWidth": 1.3},
          "encoding": {
            "x": {"field": "rate", "type": "nominal"},
            "xOffset": {"field": "series", "type": "nominal"},
            "y": {"field": "lo", "type": "quantitative", "axis": null},
            "y2": {"field": "hi"},
            "stroke": {"field": "series", "type": "nominal"}
          }
        },
        {
          "mark": {"type": "tick", "thickness": 1.3, "size": 8},
          "encoding": {
            "x": {"field": "rate", "type": "nominal"},
            "xOffset": {"field": "series", "type": "nominal"},
            "y": {"field": "lo", "type": "quantitative", "axis": {"orient": "right", "labels": false, "domain": false, "grid": false, "tickSize": -8, "tickColor": "black", "tickWidth": 1.2, "title": null, "values": [0, 2000, 4000, 6000, 8000, 10000, 12000, 14000, 16000, 18000, 20000]}},
            "stroke": {"field": "series", "type": "nominal"}
          }
        },
        {
          "mark": {"type": "tick", "thickness": 1.3, "size": 8},
          "encoding": {
            "x": {"field": "rate", "type": "nominal"},
            "xOffset": {"field": "series", "type": "nominal"},
            "y": {"field": "hi", "type": "quantitative", "axis": null},
            "stroke": {"field": "series", "type": "nominal"}
          }
        }
      ]
    }
  ]
}
